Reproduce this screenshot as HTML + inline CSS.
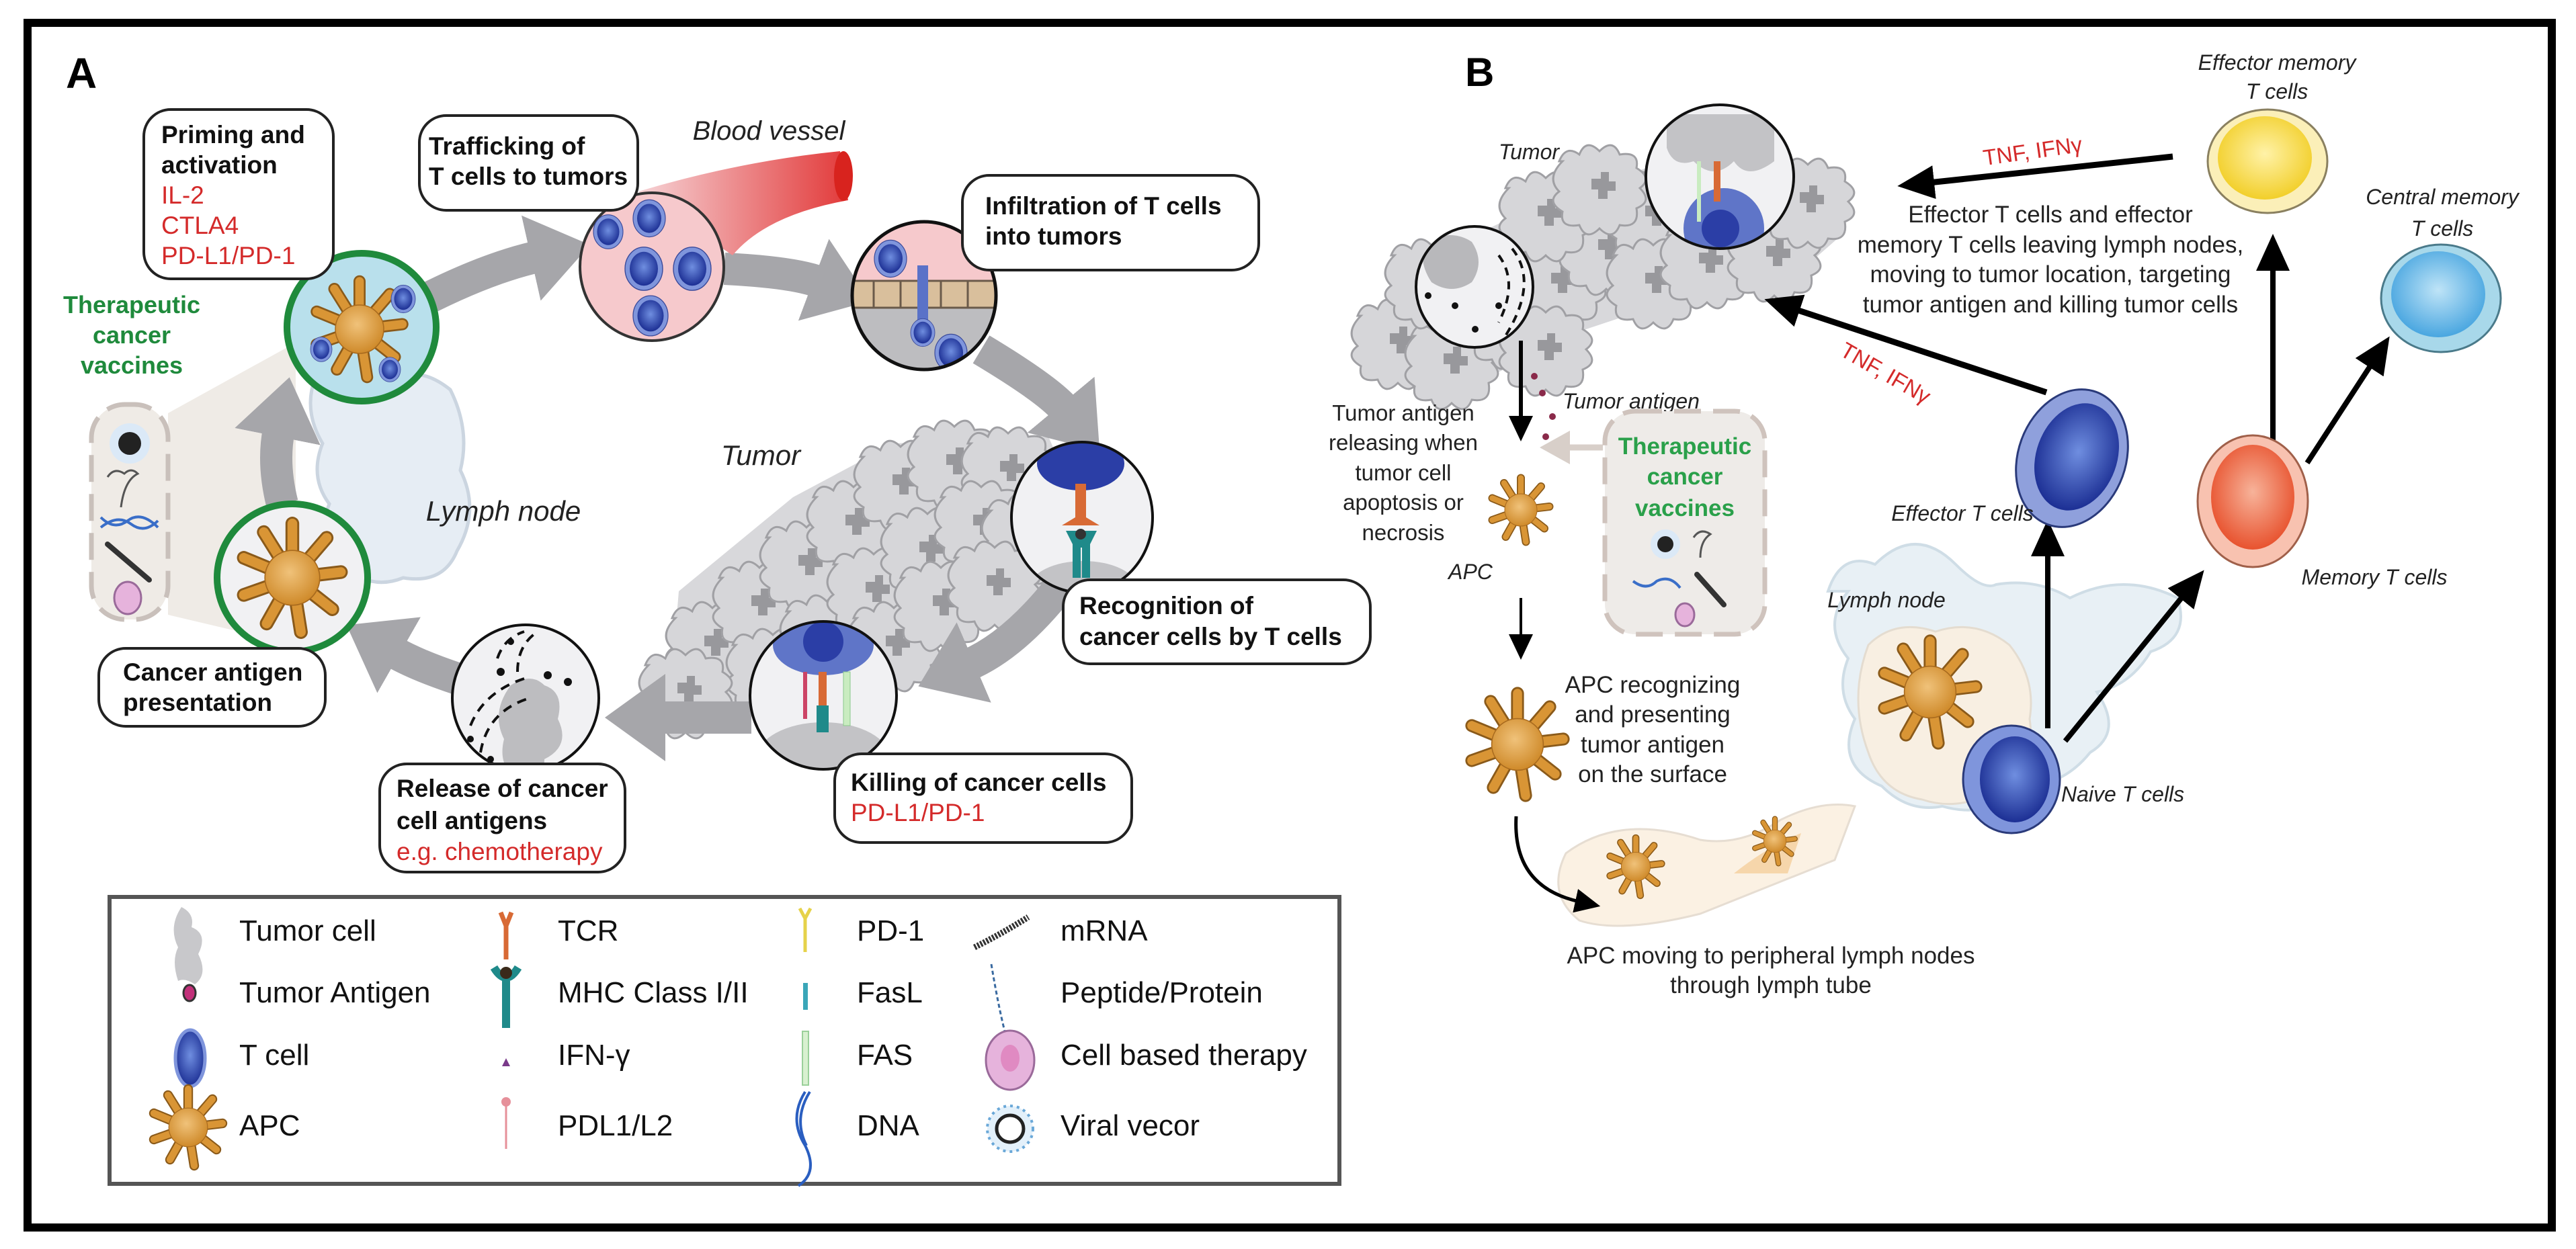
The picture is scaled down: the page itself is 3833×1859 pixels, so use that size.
<!DOCTYPE html>
<html><head><meta charset="utf-8"><style>
html,body{margin:0;padding:0;background:#fff;}
svg{display:block;font-family:"Liberation Sans",Arial,sans-serif;}
</style></head><body>
<svg width="3833" height="1859" viewBox="0 0 3833 1859" xmlns="http://www.w3.org/2000/svg">
<defs>
<radialGradient id="gApc" cx="45%" cy="40%" r="60%"><stop offset="0" stop-color="#f0c27a"/><stop offset="1" stop-color="#cf8a2a"/></radialGradient>
<radialGradient id="gT" cx="50%" cy="45%" r="55%"><stop offset="0" stop-color="#6f8ee0"/><stop offset="1" stop-color="#1c2f94"/></radialGradient>
<radialGradient id="gY" cx="50%" cy="45%" r="55%"><stop offset="0" stop-color="#fff2a8"/><stop offset="1" stop-color="#f2cf2a"/></radialGradient>
<radialGradient id="gB" cx="50%" cy="45%" r="55%"><stop offset="0" stop-color="#bfe4f7"/><stop offset="1" stop-color="#49a6e0"/></radialGradient>
<radialGradient id="gR" cx="50%" cy="45%" r="55%"><stop offset="0" stop-color="#f7b39a"/><stop offset="1" stop-color="#e8532f"/></radialGradient>
<linearGradient id="gVes" x1="0" y1="0" x2="1" y2="0"><stop offset="0" stop-color="#f6d3d6"/><stop offset="1" stop-color="#e23a3a"/></linearGradient>
<marker id="mg" markerUnits="userSpaceOnUse" markerWidth="120" markerHeight="130" refX="10" refY="65" orient="auto"><path d="M0,0 L90,65 L0,130 Z" fill="#a6a6aa"/></marker>
<marker id="mb" markerUnits="userSpaceOnUse" markerWidth="60" markerHeight="50" refX="8" refY="25" orient="auto"><path d="M0,0 L55,25 L0,50 Z" fill="#000"/></marker>
<marker id="mbs" markerUnits="userSpaceOnUse" markerWidth="40" markerHeight="36" refX="6" refY="18" orient="auto"><path d="M0,0 L38,18 L0,36 Z" fill="#000"/></marker>
<marker id="mgl" markerUnits="userSpaceOnUse" markerWidth="50" markerHeight="50" refX="6" refY="25" orient="auto"><path d="M0,0 L45,25 L0,50 Z" fill="#d8cfc9"/></marker>
<g id="apc">
 <g stroke="#8a5a1a" stroke-width="24" stroke-linecap="round"><path d="M0,0 L0,-95 M0,0 L60,-70 M0,0 L85,-10 M0,0 L70,55 M0,0 L15,95 M0,0 L-45,80 M0,0 L-85,30 M0,0 L-85,-35 M0,0 L-50,-80"/></g>
 <g stroke="#d99535" stroke-width="17" stroke-linecap="round"><path d="M0,0 L0,-95 M0,0 L60,-70 M0,0 L85,-10 M0,0 L70,55 M0,0 L15,95 M0,0 L-45,80 M0,0 L-85,30 M0,0 L-85,-35 M0,0 L-50,-80"/></g>
 <circle r="48" fill="url(#gApc)" stroke="#a86a1e" stroke-width="2"/>
</g>
<g id="tcell"><ellipse rx="40" ry="46" fill="#7f95dc" stroke="#3a4a9a" stroke-width="2"/><ellipse rx="30" ry="36" fill="url(#gT)"/></g>
<g id="tum"><path d="M-60,-40 q10,-25 30,-10 q10,-25 30,-5 q20,-20 30,5 q30,-5 25,20 q25,15 5,30 q20,20 -5,30 q5,30 -25,25 q-10,25 -30,5 q-20,20 -30,-5 q-30,5 -25,-20 q-25,-15 -5,-30 q-20,-20 5,-45 z" fill="#d6d6d9" stroke="#a0a0a4" stroke-width="3"/><path d="M-12,-14 h14 v-10 h12 v14 h10 v14 h-12 v12 h-14 v-14 h-10 z" fill="#98989c"/></g>
</defs>
<rect width="3833" height="1859" fill="#fff"/>
<rect x="41" y="34" width="3756" height="1793" fill="none" stroke="#000" stroke-width="12"/>

<text x="98" y="131" font-size="64" font-weight="bold">A</text>

<path d="M250,615 L440,510 L440,960 L250,915 Z" fill="#efebe6"/>
<path d="M470,560 q60,-20 110,10 q40,-30 90,10 q30,60 15,120 q30,60 -5,120 q-20,50 -80,40 q-50,20 -90,-20 q-40,-40 -20,-90 q-30,-40 -10,-90 q-30,-50 -10,-100 z" fill="#e6edf4" stroke="#cbd5e0" stroke-width="5"/>

<g>
<path d="M1010,880 L1180,740 L1330,660 L1560,650 L1600,740 L1560,880 L1400,960 L1260,1020 L1080,1060 L1000,1000 Z" fill="#d8d8db"/>
<use href="#tum" x="1060" y="960"/><use href="#tum" x="1130" y="900"/><use href="#tum" x="1200" y="840"/><use href="#tum" x="1270" y="780"/><use href="#tum" x="1340" y="720"/><use href="#tum" x="1420" y="690"/><use href="#tum" x="1500" y="700"/>
<use href="#tum" x="1150" y="1000"/><use href="#tum" x="1230" y="950"/><use href="#tum" x="1300" y="880"/><use href="#tum" x="1380" y="820"/><use href="#tum" x="1460" y="780"/><use href="#tum" x="1530" y="800"/>
<use href="#tum" x="1330" y="960"/><use href="#tum" x="1400" y="900"/><use href="#tum" x="1480" y="870"/><use href="#tum" x="1020" y="1030"/>
</g>

<g fill="none" stroke="#a6a6aa" stroke-width="48">
<path d="M615,455 Q720,400 800,382" marker-end="url(#mg)"/>
<path d="M1078,400 Q1180,405 1220,420" marker-end="url(#mg)"/>
<path d="M1460,520 Q1560,580 1585,610" marker-end="url(#mg)"/>
<path d="M1580,870 Q1510,960 1440,990" marker-end="url(#mg)"/>
<path d="M1118,1068 L980,1068" marker-end="url(#mg)"/>
<path d="M680,1010 Q620,990 585,970" marker-end="url(#mg)"/>
<path d="M420,750 Q405,690 415,640" marker-end="url(#mg)"/>
</g>

<path d="M950,285 Q1100,240 1250,225 L1262,298 Q1140,320 1090,380 Z" fill="url(#gVes)"/>
<ellipse cx="1255" cy="262" rx="14" ry="37" fill="#d8231e"/>
<text x="1144" y="208" font-size="40" font-style="italic" text-anchor="middle" fill="#222">Blood vessel</text>

<ellipse cx="970" cy="397" rx="107" ry="110" fill="#f6c9cc" stroke="#333" stroke-width="4"/>
<use href="#tcell" transform="translate(905,345) scale(0.55)"/><use href="#tcell" transform="translate(966,325) scale(0.6)"/>
<use href="#tcell" transform="translate(958,400) scale(0.7)"/><use href="#tcell" transform="translate(1030,400) scale(0.7)"/>
<use href="#tcell" transform="translate(968,470) scale(0.65)"/>

<clipPath id="cInf"><ellipse cx="1375" cy="440" rx="107" ry="110"/></clipPath>
<g clip-path="url(#cInf)">
<rect x="1260" y="320" width="240" height="100" fill="#f6c9cc"/>
<rect x="1260" y="418" width="240" height="40" fill="#d9bf9c"/>
<rect x="1260" y="458" width="240" height="100" fill="#bdbdc0"/>
<g stroke="#6a5a4a" stroke-width="3"><path d="M1300,418v40M1340,418v40M1400,418v40M1440,418v40M1260,418h240M1260,458h240"/></g>
<use href="#tcell" transform="translate(1325,385) scale(0.6)"/>
<rect x="1365" y="395" width="16" height="90" fill="#5a72c8"/>
<use href="#tcell" transform="translate(1373,495) scale(0.45)"/><use href="#tcell" transform="translate(1415,525) scale(0.6)"/>
</g>
<ellipse cx="1375" cy="440" rx="107" ry="110" fill="none" stroke="#111" stroke-width="5"/>

<ellipse cx="538" cy="487" rx="111" ry="110" fill="#b9e0ec" stroke="#1f8a3c" stroke-width="10"/>
<use href="#apc" transform="translate(535,490) scale(0.75)"/>
<use href="#tcell" transform="translate(600,445) scale(0.45)"/><use href="#tcell" transform="translate(478,520) scale(0.4)"/><use href="#tcell" transform="translate(580,550) scale(0.4)"/>

<ellipse cx="435" cy="860" rx="112" ry="110" fill="#f1f1f3" stroke="#1f8a3c" stroke-width="10"/>
<use href="#apc" transform="translate(435,860) scale(0.85)"/>

<clipPath id="cRec"><ellipse cx="1610" cy="770" rx="105" ry="112"/></clipPath>
<g clip-path="url(#cRec)"><rect x="1500" y="650" width="220" height="240" fill="#f1f1f3"/>
<ellipse cx="1612" cy="875" rx="80" ry="40" fill="#c3c3c6"/>
<ellipse cx="1608" cy="690" rx="65" ry="40" fill="#2b3ea6"/>
<path d="M1600,720 h16 v50 l20,12 h-56 l20,-12 z" fill="#d86a35"/>
<path d="M1586,790 h46 l-10,20 v50 h-12 v-45 h-2 v45 h-12 v-50 z" fill="#1f8a8a"/><circle cx="1608" cy="795" r="8" fill="#333"/>
</g>
<ellipse cx="1610" cy="770" rx="105" ry="112" fill="none" stroke="#111" stroke-width="4"/>

<clipPath id="cKil"><ellipse cx="1225" cy="1035" rx="109" ry="110"/></clipPath>
<g clip-path="url(#cKil)"><rect x="1110" y="920" width="230" height="230" fill="#f1f1f3"/>
<ellipse cx="1225" cy="1130" rx="100" ry="55" fill="#c3c3c6"/>
<ellipse cx="1225" cy="960" rx="75" ry="45" fill="#5f75c8"/><circle cx="1225" cy="955" r="30" fill="#2b3ea6"/>
<rect x="1218" y="1000" width="12" height="50" fill="#d86a35"/><rect x="1215" y="1050" width="18" height="40" fill="#1f8a8a"/>
<rect x="1255" y="1000" width="10" height="80" fill="#c9ecc0" stroke="#8cc98c"/>
<rect x="1195" y="1000" width="6" height="70" fill="#c46"/>
</g>
<ellipse cx="1225" cy="1035" rx="109" ry="110" fill="none" stroke="#111" stroke-width="4"/>

<clipPath id="cRel"><ellipse cx="782" cy="1039" rx="109" ry="109"/></clipPath>
<g clip-path="url(#cRel)"><rect x="670" y="930" width="230" height="230" fill="#f1f1f3"/>
<path d="M760,1020 q30,-20 50,0 q30,10 20,50 q20,40 -20,60 q0,40 -40,30 q-30,-20 -20,-60 q-20,-40 10,-80 z" fill="#bdbdc0"/>
<g fill="none" stroke="#111" stroke-width="4" stroke-dasharray="14,10"><path d="M700,1080 q20,-50 80,-70"/><path d="M715,1120 q10,-60 70,-80"/><path d="M770,1000 q0,-40 30,-60"/><path d="M740,980 q10,-30 40,-40"/></g>
<g fill="#111"><circle cx="745" cy="1000" r="6"/><circle cx="815" cy="1005" r="6"/><circle cx="845" cy="1015" r="6"/><circle cx="700" cy="1100" r="5"/><circle cx="730" cy="1130" r="5"/><circle cx="760" cy="955" r="5"/></g>
</g>
<ellipse cx="782" cy="1039" rx="109" ry="109" fill="none" stroke="#111" stroke-width="4"/>

<rect x="136" y="602" width="114" height="320" rx="50" fill="#efebe6" stroke="#c9c0bb" stroke-width="7" stroke-dasharray="40,18"/>
<circle cx="193" cy="660" r="30" fill="#dbe9f7"/><circle cx="193" cy="660" r="17" fill="#222"/>
<path d="M160,710 q10,-15 25,-5 q10,-10 20,0 q-20,10 -25,50" fill="none" stroke="#555" stroke-width="3"/>
<path d="M150,770 q20,20 40,5 q20,-15 45,10 M150,785 q25,-20 45,-5 q20,15 40,-5" fill="none" stroke="#3a6ec8" stroke-width="4"/>
<path d="M160,810 L222,863" stroke="#333" stroke-width="8" stroke-linecap="round"/>
<ellipse cx="190" cy="890" rx="20" ry="24" fill="#e6b3dc" stroke="#9a6a9a" stroke-width="3"/>

<text x="196" y="466" font-size="36" font-weight="bold" fill="#1f8a3c" text-anchor="middle">Therapeutic</text>
<text x="196" y="511" font-size="36" font-weight="bold" fill="#1f8a3c" text-anchor="middle">cancer</text>
<text x="196" y="556" font-size="36" font-weight="bold" fill="#1f8a3c" text-anchor="middle">vaccines</text>
<text x="749" y="775" font-size="42" font-style="italic" text-anchor="middle" fill="#222">Lymph node</text>
<text x="1132" y="692" font-size="42" font-style="italic" text-anchor="middle" fill="#222">Tumor</text>

<g fill="#fff" stroke="#222" stroke-width="4">
<rect x="214" y="163" width="282" height="252" rx="40"/>
<rect x="624" y="172" width="325" height="141" rx="40"/>
<rect x="1432" y="261" width="441" height="141" rx="40"/>
<rect x="1582" y="863" width="457" height="125" rx="40"/>
<rect x="1242" y="1122" width="442" height="132" rx="40"/>
<rect x="565" y="1137" width="365" height="161" rx="40"/>
<rect x="147" y="965" width="337" height="116" rx="40"/>
</g>
<g font-size="37" font-weight="bold" fill="#111">
<text x="240" y="213">Priming and</text><text x="240" y="258">activation</text>
<text x="638" y="230">Trafficking of</text><text x="638" y="275">T cells to tumors</text>
<text x="1466" y="319">Infiltration of T cells</text><text x="1466" y="364">into tumors</text>
<text x="1606" y="914">Recognition of</text><text x="1606" y="960">cancer cells by T cells</text>
<text x="1266" y="1177">Killing of cancer cells</text>
<text x="590" y="1186">Release of cancer</text><text x="590" y="1234">cell antigens</text>
<text x="183" y="1013">Cancer antigen</text><text x="183" y="1058">presentation</text>
</g>
<g font-size="37" fill="#d42a2a">
<text x="240" y="303">IL-2</text><text x="240" y="348">CTLA4</text><text x="240" y="393">PD-L1/PD-1</text>
<text x="1266" y="1222">PD-L1/PD-1</text>
<text x="590" y="1280">e.g. chemotherapy</text>
</g>

<rect x="163" y="1335" width="1830" height="427" fill="#fff" stroke="#555" stroke-width="6"/>
<g font-size="44" fill="#111">
<text x="356" y="1400">Tumor cell</text><text x="830" y="1400">TCR</text><text x="1275" y="1400">PD-1</text><text x="1578" y="1400">mRNA</text>
<text x="356" y="1492">Tumor Antigen</text><text x="830" y="1492">MHC Class I/II</text><text x="1275" y="1492">FasL</text><text x="1578" y="1492">Peptide/Protein</text>
<text x="356" y="1585">T cell</text><text x="830" y="1585">IFN-γ</text><text x="1275" y="1585">FAS</text><text x="1578" y="1585">Cell based therapy</text>
<text x="356" y="1690">APC</text><text x="830" y="1690">PDL1/L2</text><text x="1275" y="1690">DNA</text><text x="1578" y="1690">Viral vecor</text>
</g>
<path d="M270,1350 q20,10 15,30 q25,10 10,40 q15,30 -5,45 q-15,-10 -25,-5 q-10,-30 0,-50 q-15,-30 5,-60 z" fill="#c8c8cb"/>
<ellipse cx="282" cy="1478" rx="9" ry="12" fill="#c2307a" stroke="#333" stroke-width="3"/>
<ellipse cx="283" cy="1575" rx="22" ry="42" fill="url(#gT)" stroke="#7f95dc" stroke-width="5"/>
<use href="#apc" transform="translate(280,1678) scale(0.6)"/>
<path d="M745,1358 l8,20 l8,-20 M753,1378 v50" stroke="#d86a35" stroke-width="7" fill="none"/>
<path d="M735,1440 q18,30 36,0 M753,1460 v70" stroke="#1f8a8a" stroke-width="12" fill="none"/><circle cx="753" cy="1448" r="9" fill="#3a2a1a"/>
<path d="M753,1575 l-6,12 h12 z" fill="#7a3a8a"/>
<path d="M753,1640 v70" stroke="#e6909a" stroke-width="3"/><circle cx="753" cy="1640" r="7" fill="#e6909a"/>
<path d="M1190,1352 l8,15 l8,-15 M1198,1367 v50" stroke="#e6d24a" stroke-width="5" fill="none"/>
<rect x="1195" y="1463" width="7" height="40" fill="#3aa6b8"/>
<rect x="1194" y="1535" width="9" height="80" fill="#d8f0d0" stroke="#9ad09a" stroke-width="2"/>
<path d="M1198,1625 q-25,40 0,80 q20,40 -10,60 M1205,1625 q-25,40 -5,80" stroke="#2a5ec0" stroke-width="4" fill="none"/>
<path d="M1450,1410 q40,-20 80,-45" stroke="#333" stroke-width="9" stroke-dasharray="3,2" fill="none"/>
<path d="M1475,1435 q10,60 20,100" stroke="#3a6aa0" stroke-width="3" stroke-dasharray="6,4" fill="none"/>
<ellipse cx="1503" cy="1578" rx="36" ry="44" fill="#e6b3dc" stroke="#9a6a9a" stroke-width="3"/><ellipse cx="1503" cy="1575" rx="14" ry="20" fill="#e08ac2"/>
<circle cx="1503" cy="1680" r="34" fill="#e3f0fa" stroke="#6aa8d8" stroke-width="4" stroke-dasharray="4,6"/><circle cx="1503" cy="1680" r="20" fill="#fff" stroke="#222" stroke-width="5"/>

<text x="2180" y="128" font-size="60" font-weight="bold">B</text>

<path d="M2720,880 q20,-60 70,-40 q60,-60 120,0 q40,40 60,30 q60,-10 110,20 q80,-40 160,0 q20,60 -40,80 q-30,50 -80,60 q40,60 -10,90 q-40,50 -100,50 q-50,50 -120,30 q-50,10 -90,-30 q-70,-30 -40,-100 q-30,-40 -10,-90 q-40,-50 0,-100 z" fill="#e8f0f5" stroke="#cfdde6" stroke-width="4"/>
<path d="M2780,960 q40,-40 100,-20 q60,-20 110,20 q40,50 30,110 q10,70 -40,100 q-60,40 -120,20 q-60,-10 -80,-70 q-30,-80 0,-160 z" fill="#f8efe2" stroke="#e4dcd0" stroke-width="3"/>
<path d="M2330,1270 q80,-60 200,-20 q60,10 120,-30 q60,-30 110,-20 l-30,80 q-100,40 -200,80 q-120,30 -180,10 q-50,-40 -20,-100 z" fill="#fbf1e3" stroke="#e6ddd2" stroke-width="3"/>
<path d="M2580,1300 q50,-40 100,-60 l-20,60 z" fill="#f3c585" opacity="0.6"/>

<path d="M2040,500 L2130,380 L2300,300 L2480,240 L2700,250 L2740,350 L2660,420 L2480,450 L2330,500 L2200,570 L2080,570 Z" fill="#d8d8db"/>
<use href="#tum" x="2080" y="510"/><use href="#tum" x="2160" y="540"/><use href="#tum" x="2250" y="480"/><use href="#tum" x="2320" y="420"/><use href="#tum" x="2390" y="370"/><use href="#tum" x="2460" y="320"/><use href="#tum" x="2300" y="320"/><use href="#tum" x="2380" y="280"/>
<use href="#tum" x="2460" y="420"/><use href="#tum" x="2540" y="390"/><use href="#tum" x="2640" y="380"/><use href="#tum" x="2690" y="300"/><use href="#tum" x="2300" y="520"/><use href="#tum" x="2130" y="420"/>
<clipPath id="cBt"><ellipse cx="2559" cy="263" rx="110" ry="107"/></clipPath>
<g clip-path="url(#cBt)"><rect x="2440" y="150" width="240" height="230" fill="#f1f1f3"/>
<path d="M2480,170 h160 v70 q-40,30 -60,0 q-30,30 -60,0 q-30,10 -40,-20 z" fill="#c3c3c6"/>
<ellipse cx="2565" cy="340" rx="60" ry="60" fill="#5f75c8"/><circle cx="2560" cy="340" r="28" fill="#2b3ea6"/>
<path d="M2555,240 v60" stroke="#d86a35" stroke-width="10"/><rect x="2525" y="240" width="6" height="90" fill="#c9ecc0"/>
</g>
<ellipse cx="2559" cy="263" rx="110" ry="107" fill="none" stroke="#111" stroke-width="4"/>
<clipPath id="cBl"><ellipse cx="2194" cy="427" rx="87" ry="90"/></clipPath>
<g clip-path="url(#cBl)"><rect x="2100" y="330" width="190" height="200" fill="#f1f1f3"/>
<path d="M2120,360 q40,-20 70,0 q20,30 0,60 q-30,20 -60,0 q-20,-30 -10,-60 z" fill="#b8b8bb"/>
<g fill="none" stroke="#111" stroke-width="4" stroke-dasharray="12,9"><path d="M2230,380 q30,40 0,100"/><path d="M2250,370 q40,50 -10,130"/></g>
<g fill="#111"><circle cx="2125" cy="440" r="5"/><circle cx="2165" cy="455" r="5"/><circle cx="2230" cy="455" r="5"/><circle cx="2195" cy="490" r="5"/></g>
</g>
<ellipse cx="2194" cy="427" rx="87" ry="90" fill="none" stroke="#111" stroke-width="4"/>
<text x="2275" y="237" font-size="32" font-style="italic" text-anchor="middle" fill="#222">Tumor</text>

<g fill="#8a2a4a"><circle cx="2283" cy="560" r="5"/><circle cx="2295" cy="585" r="5"/><circle cx="2310" cy="620" r="5"/><circle cx="2300" cy="650" r="5"/><circle cx="2318" cy="670" r="5"/></g>
<text x="2325" y="608" font-size="32" font-style="italic" fill="#222">Tumor antigen</text>
<g font-size="33" fill="#222" text-anchor="middle">
<text x="2088" y="626">Tumor antigen</text><text x="2088" y="670">releasing when</text><text x="2088" y="715">tumor cell</text><text x="2088" y="759">apoptosis or</text><text x="2088" y="804">necrosis</text>
</g>
<text x="2188" y="862" font-size="32" font-style="italic" fill="#222" text-anchor="middle">APC</text>

<g stroke="#000" fill="none">
<path d="M2263,507 L2263,625" stroke-width="6" marker-end="url(#mbs)"/>
<path d="M2263,890 L2263,950" stroke-width="4" marker-end="url(#mbs)"/>
<path d="M3233,233 L2870,272" stroke-width="9" marker-end="url(#mb)"/>
<path d="M3045,584 L2670,460" stroke-width="9" marker-end="url(#mb)"/>
<path d="M3047,1084 L3047,820" stroke-width="8" marker-end="url(#mb)"/>
<path d="M3073,1103 L3250,885" stroke-width="8" marker-end="url(#mb)"/>
<path d="M3382,670 L3382,395" stroke-width="8" marker-end="url(#mb)"/>
<path d="M3433,689 L3530,540" stroke-width="8" marker-end="url(#mb)"/>
<path d="M2256,1215 Q2250,1320 2350,1342" stroke-width="5" marker-end="url(#mbs)"/>
</g>
<path d="M2385,666 L2330,666" stroke="#d8cfc9" stroke-width="9" marker-end="url(#mgl)"/>

<rect x="2388" y="612" width="238" height="332" rx="45" fill="#eeebe8" stroke="#cfc3bd" stroke-width="7" stroke-dasharray="40,18"/>
<g font-size="35" font-weight="bold" fill="#2aa04a" text-anchor="middle"><text x="2507" y="676">Therapeutic</text><text x="2507" y="721">cancer</text><text x="2507" y="768">vaccines</text></g>
<circle cx="2478" cy="810" r="22" fill="#dbe9f7"/><circle cx="2478" cy="810" r="12" fill="#222"/>
<path d="M2520,800 q10,-15 25,-5 q-15,10 -15,35" stroke="#555" stroke-width="3" fill="none"/>
<path d="M2430,865 q20,15 35,0 q20,-10 35,10" stroke="#3a6ec8" stroke-width="4" fill="none"/>
<path d="M2525,855 L2565,900" stroke="#333" stroke-width="8" stroke-linecap="round"/>
<ellipse cx="2507" cy="915" rx="14" ry="17" fill="#e6b3dc" stroke="#9a6a9a" stroke-width="3"/>

<use href="#apc" transform="translate(2263,759) scale(0.5)"/>
<use href="#apc" transform="translate(2258,1108) scale(0.8)"/>
<use href="#apc" transform="translate(2872,1030) scale(0.8)"/>
<use href="#apc" transform="translate(2434,1290) scale(0.45)"/>
<use href="#apc" transform="translate(2641,1252) scale(0.35)"/>

<ellipse cx="2993" cy="1160" rx="72" ry="80" fill="#7f95dc" stroke="#2a3a7a" stroke-width="3"/><ellipse cx="2998" cy="1160" rx="52" ry="64" fill="url(#gT)"/>
<ellipse cx="3083" cy="682" rx="80" ry="105" fill="#8fa0dc" stroke="#2a3a7a" stroke-width="3" transform="rotate(20 3083 682)"/><ellipse cx="3090" cy="680" rx="60" ry="82" fill="url(#gT)" transform="rotate(20 3090 680)"/>
<ellipse cx="3352" cy="746" rx="82" ry="98" fill="#f8c2b0" stroke="#a0604a" stroke-width="3"/><ellipse cx="3352" cy="740" rx="62" ry="78" fill="url(#gR)"/>
<ellipse cx="3374" cy="240" rx="89" ry="77" fill="#fbefb8" stroke="#8a8060" stroke-width="3"/><ellipse cx="3370" cy="235" rx="70" ry="62" fill="url(#gY)"/>
<ellipse cx="3632" cy="444" rx="89" ry="80" fill="#a8d8ea" stroke="#4a7a8a" stroke-width="3"/><ellipse cx="3628" cy="438" rx="70" ry="64" fill="url(#gB)"/>

<g font-size="32" font-style="italic" fill="#222" text-anchor="middle">
<text x="3388" y="104">Effector memory</text><text x="3388" y="147">T cells</text>
<text x="3634" y="304">Central memory</text><text x="3634" y="351">T cells</text>
<text x="2920" y="775">Effector T cells</text>
<text x="3533" y="870">Memory T cells</text>
<text x="2807" y="904">Lymph node</text>
</g>
<text x="3067" y="1193" font-size="32" font-style="italic" fill="#222">Naive T cells</text>
<g font-size="35" fill="#222" text-anchor="middle">
<text x="3051" y="331">Effector T cells and effector</text><text x="3051" y="376">memory T cells leaving lymph nodes,</text><text x="3051" y="420">moving to tumor location, targeting</text><text x="3051" y="465">tumor antigen and killing tumor cells</text>
<text x="2459" y="1031">APC recognizing</text><text x="2459" y="1075">and presenting</text><text x="2459" y="1120">tumor antigen</text><text x="2459" y="1164">on the surface</text>
<text x="2635" y="1434">APC moving to peripheral lymph nodes</text><text x="2635" y="1478">through lymph tube</text>
</g>
<text x="3026" y="236" font-size="33" fill="#d42a2a" text-anchor="middle" transform="rotate(-8 3026 236)">TNF, IFNγ</text>
<text x="2800" y="565" font-size="33" fill="#d42a2a" text-anchor="middle" transform="rotate(30 2800 565)">TNF, IFNγ</text>
</svg>
</body></html>
